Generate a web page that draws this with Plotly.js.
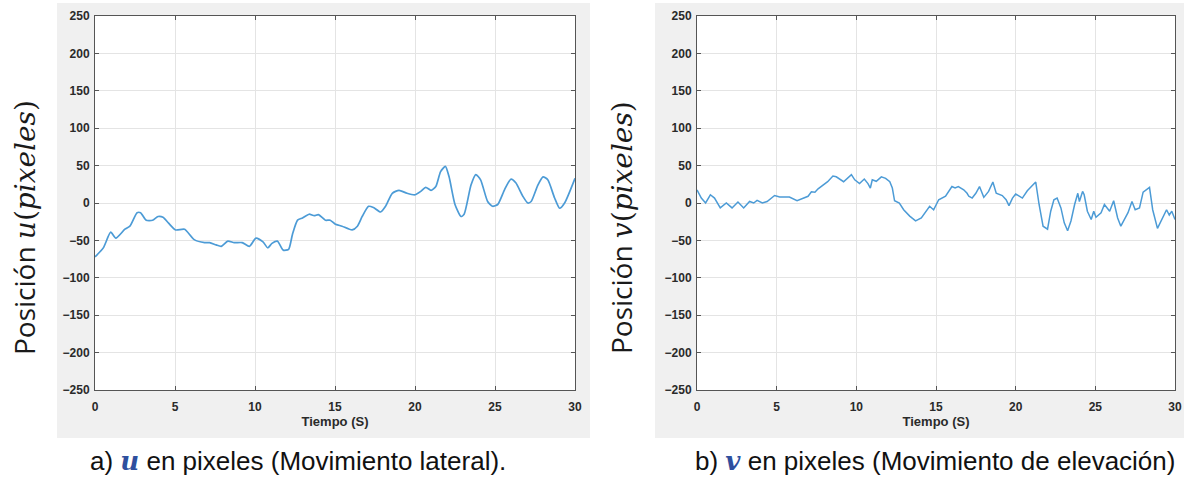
<!DOCTYPE html>
<html>
<head>
<meta charset="utf-8">
<script src="https://cdn.plot.ly/plotly-3.0.1.min.js"></script>
<style>html,body{margin:0;padding:0;background:#fff;}#chart{width:1184px;height:479px;}</style>
</head>
<body>
<div id="chart"></div>
<script>
// ---- data ----
const uTime = [0,0.52,0.98,1.3,1.87,2.18,2.63,2.85,3.2,3.6,3.94,4.25,4.6,5.04,5.6,6.2,6.85,7.16,7.57,7.88,8.3,8.7,9.2,9.65,10.06,10.5,10.8,11.06,11.4,11.76,12.1,12.34,12.66,12.97,13.38,13.7,13.96,14.4,14.7,15.0,15.44,16.07,16.4,16.7,17.1,17.4,17.85,18.16,18.58,19.0,19.5,20.0,20.36,20.67,21.0,21.3,21.6,21.9,22.13,22.5,22.87,23.07,23.5,23.8,24.1,24.54,24.85,25.17,25.6,26.0,26.3,26.74,27.05,27.26,27.68,28.0,28.3,28.72,29.04,29.35,30];
const uPos  = [-72,-60,-39,-47,-35,-31,-13,-13,-23,-23,-18,-19,-27,-36,-35,-49,-53,-53,-56,-58,-51,-53,-53,-58,-47,-52,-60,-54,-51,-63,-62,-42,-23,-20,-15,-17,-15.5,-23,-23,-28,-31,-36,-31,-18,-4.4,-6,-12,-4.4,13,17,13,11,15.5,21,17,22,42,49,35,-2,-18,-15,24,38,31,2,-4.4,-2,18,32,27,9,0,2,24,35,31,7,-7,0,33];

const vTime = [0,0.27,0.54,0.84,1.1,1.46,1.84,2.2,2.57,2.93,3.3,3.56,3.77,4.1,4.4,4.87,5.19,5.8,6.28,6.65,6.97,7.18,7.4,7.6,7.8,8.0,8.2,8.53,8.74,9.2,9.69,9.9,10.2,10.5,10.73,10.88,11.0,11.25,11.57,11.84,12.1,12.26,12.4,12.7,12.97,13.35,13.72,14.08,14.4,14.6,14.85,15.17,15.6,15.8,16.0,16.2,16.4,16.74,16.95,17.06,17.27,17.5,17.73,18.0,18.3,18.57,18.78,19.16,19.4,19.58,19.8,20.0,20.2,20.42,20.73,21.05,21.26,21.47,21.72,22.0,22.2,22.4,22.6,22.84,23.05,23.26,23.47,23.7,23.9,24.0,24.2,24.3,24.5,24.74,24.9,25.04,25.36,25.57,25.9,26.15,26.4,26.6,26.85,27.05,27.3,27.5,27.77,28.0,28.4,28.6,28.9,29.2,29.47,29.64,29.8,30];
const vPos  = [17.5,6.6,0,11,6.6,-6.6,0,-6.6,1.3,-6.6,2,0,3.5,0,2,10,8,8,3,6.6,9,15,14.5,19,22,26,28.5,36,35,28.5,38,31,26,32,26,20,31,29,35,33,28.5,20,3,0,-9,-17.5,-24,-20,-11,-4.4,-9,4.4,9,15.5,22,20,22,17.7,13,9,6.6,13,22,7.5,15.5,28,13,10,4.4,-3.5,6.6,12,9,6.6,16.4,24,28,-2,-31,-35,-11,4.4,6.6,-6.6,-26.5,-37,-24,-2,13,2,15.5,11,-11,-22,-11,-19,-13,-2,-11,3,-20,-31,-20,-13,2,-9,-6.6,14.6,21,-9,-34,-20,-9,-16,-11,-22];

const xTicks = [0,5,10,15,20,25,30];
const yTicks = [-250,-200,-150,-100,-50,0,50,100,150,200,250];
const xTitle = "Tiempo (S)";
const captionA = "a) <span style='font-family:DejaVu Serif;color:#2e4f9e'><b><i>u</i></b></span> en pixeles (Movimiento lateral).";
const captionB = "b) <span style='font-family:DejaVu Serif;color:#2e4f9e'><b><i>v</i></b></span> en pixeles (Movimiento de elevación)";
const yTitleA = "Posición <span style='font-family:DejaVu Serif'><i>u</i>(<i>pixeles</i>)</span>";
const yTitleB = "Posición <span style='font-family:DejaVu Serif'><i>v</i>(<i>pixeles</i>)</span>";

// ---- layout helpers ----
const W = 1184, H = 479;
const px = v => v / W, py = v => 1 - v / H;
const lineColor = '#4c9bd6';

function xAxis(domain, anchor) {
  return {
    domain: domain, anchor: anchor, range: [0, 30], tickvals: xTicks,
    showgrid: true, gridcolor: '#e4e4e4', gridwidth: 1, zeroline: false,
    showline: true, linecolor: '#555555', linewidth: 1, mirror: 'ticks',
    ticks: 'inside', ticklen: 4, tickcolor: '#555555',
    tickfont: {family: 'Liberation Sans, Arial', size: 12, color: '#2a2a2a', weight: 700},
    ticklabelstandoff: 6,
    title: {text: xTitle, font: {family: 'Liberation Sans, Arial', size: 13, color: '#2a2a2a', weight: 700}, standoff: 2},
    fixedrange: true
  };
}
function yAxis(domain, anchor) {
  return {
    domain: domain, anchor: anchor, range: [-250, 250], tickvals: yTicks,
    showgrid: true, gridcolor: '#e4e4e4', gridwidth: 1, zeroline: false,
    showline: true, linecolor: '#555555', linewidth: 1, mirror: 'ticks',
    ticks: 'inside', ticklen: 4, tickcolor: '#555555',
    tickfont: {family: 'Liberation Sans, Arial', size: 12, color: '#2a2a2a', weight: 700},
    ticklabelstandoff: 2,
    fixedrange: true
  };
}

const yDom = [py(390), py(16)];
const data = [
  {x: uTime, y: uPos, type: 'scatter', mode: 'lines', xaxis: 'x', yaxis: 'y',
   line: {color: lineColor, width: 1.7, shape: 'spline', smoothing: 0.6}, hoverinfo: 'skip'},
  {x: vTime, y: vPos, type: 'scatter', mode: 'lines', xaxis: 'x2', yaxis: 'y2',
   line: {color: lineColor, width: 1.5}, hoverinfo: 'skip'}
];

const layout = {
  width: W, height: H, showlegend: false,
  margin: {l: 0, r: 0, t: 0, b: 0},
  paper_bgcolor: '#ffffff', plot_bgcolor: '#ffffff',
  xaxis: xAxis([px(95), px(575)], 'y'),
  yaxis: yAxis(yDom, 'x'),
  xaxis2: xAxis([px(697), px(1175)], 'y2'),
  yaxis2: yAxis(yDom, 'x2'),
  shapes: [
    {type: 'rect', xref: 'paper', yref: 'paper', x0: px(57), x1: px(590), y0: py(438), y1: py(3), fillcolor: '#f0f0f0', line: {width: 0}, layer: 'below'},
    {type: 'rect', xref: 'paper', yref: 'paper', x0: px(655), x1: 1, y0: py(438), y1: py(3), fillcolor: '#f0f0f0', line: {width: 0}, layer: 'below'},
    {type: 'rect', xref: 'x domain', yref: 'y domain', x0: 0, x1: 1, y0: 0, y1: 1, fillcolor: '#ffffff', line: {width: 0}, layer: 'below'},
    {type: 'rect', xref: 'x2 domain', yref: 'y2 domain', x0: 0, x1: 1, y0: 0, y1: 1, fillcolor: '#ffffff', line: {width: 0}, layer: 'below'}
  ],
  annotations: [
    {text: yTitleA, xref: 'paper', yref: 'paper', x: px(24), y: py(228), textangle: -90, showarrow: false,
     xanchor: 'center', yanchor: 'middle', font: {family: 'Open Sans, Noto Sans', size: 28, color: '#1a1a1a'}},
    {text: yTitleB, xref: 'paper', yref: 'paper', x: px(621), y: py(228), textangle: -90, showarrow: false,
     xanchor: 'center', yanchor: 'middle', font: {family: 'Open Sans, Noto Sans', size: 28, color: '#1a1a1a'}},
    {text: captionA, xref: 'paper', yref: 'paper', x: px(298), y: py(461), showarrow: false,
     xanchor: 'center', yanchor: 'middle', font: {family: 'Liberation Sans, Arial', size: 26, color: '#111'}},
    {text: captionB, xref: 'paper', yref: 'paper', x: px(935), y: py(461), showarrow: false,
     xanchor: 'center', yanchor: 'middle', font: {family: 'Liberation Sans, Arial', size: 26, color: '#111'}}
  ]
};

Plotly.newPlot('chart', data, layout, {staticPlot: true, displayModeBar: false});
</script>
</body>
</html>
